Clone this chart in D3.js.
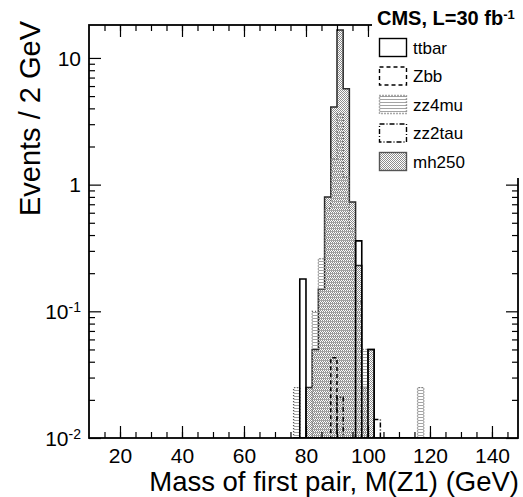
<!DOCTYPE html>
<html>
<head>
<meta charset="utf-8">
<script src="https://cdn.jsdelivr.net/npm/d3@7"></script>
<style>
  body { margin: 0; background: #fff; }
  text { font-family: "Liberation Sans", Arial, sans-serif; }
</style>
</head>
<body>
<div id="chart"></div>
<script>
// bins of 2 GeV, lower edges
var binLow = [76, 78, 80, 82, 84, 86, 88, 90, 92, 94, 96, 98, 100, 102, 104, 106, 108, 110, 112, 114, 116, 118]
var binWidth = 2

// events per bin
var ttbar  = [0, 0.18, 0, 0, 0, 0, 0, 0, 0, 0, 0.36, 0, 0.05, 0, 0, 0, 0, 0, 0, 0, 0, 0]
var zbb    = [0, 0, 0, 0, 0, 0, 0.043, 0, 0, 0, 0, 0, 0, 0, 0, 0, 0, 0, 0, 0, 0, 0]
var zz4mu  = [0.025, 0, 0, 0.10, 0.26, 0.65, 1.6, 3.6, 1.15, 0.45, 0.12, 0.05, 0, 0, 0, 0, 0, 0, 0, 0, 0.025, 0]
var zz2tau = [0, 0, 0, 0, 0, 0, 0, 0.021, 0, 0, 0, 0, 0, 0.014, 0, 0, 0, 0, 0, 0, 0, 0]
var mh250  = [0, 0, 0.025, 0.05, 0.15, 0.80, 4.1, 16.6, 5.7, 0.73, 0.23, 0.025, 0.05, 0, 0, 0, 0, 0, 0, 0, 0, 0]

var xMajor = [20, 40, 60, 80, 100, 120, 140]
var yMajor = [0.01, 0.1, 1, 10]
var legendNames = ["ttbar", "Zbb", "zz4mu", "zz2tau", "mh250"]

var W = 523, H = 497
// frame edges (don't call these top/left: window.top is reserved)
var fL = 89, fR = 518, fT = 25, fB = 438

var svg = d3.select("#chart").append("svg")
  .attr("width", W)
  .attr("height", H)

var defs = svg.append("defs")

// dotted fill (mh250)
var dots = defs.append("pattern")
  .attr("id", "dots")
  .attr("patternUnits", "userSpaceOnUse")
  .attr("width", 2).attr("height", 2)
dots.append("rect").attr("width", 2).attr("height", 2).attr("fill", "#fff")
dots.append("rect").attr("x", 0).attr("y", 0).attr("width", 1).attr("height", 1).attr("fill", "#8e8e8e")
dots.append("rect").attr("x", 1).attr("y", 1).attr("width", 1).attr("height", 1).attr("fill", "#8e8e8e")

// horizontal lines (zz4mu)
var hl = defs.append("pattern")
  .attr("id", "hlines")
  .attr("patternUnits", "userSpaceOnUse")
  .attr("width", 4).attr("height", 3)
hl.append("rect").attr("x", 0).attr("y", 0).attr("width", 4).attr("height", 1).attr("fill", "#a4a4a4")

defs.append("clipPath").attr("id", "frameclip")
  .append("rect")
  .attr("x", fL).attr("y", fT)
  .attr("width", fR - fL).attr("height", fB - fT)

var x = d3.scaleLinear().domain([10, 148.4]).range([fL, fR])
var y = d3.scaleLog().domain([0.01, 18.2]).range([fB, fT])

// ROOT-like step outline, zero bins drop to the frame bottom
function stepPath(vals) {
  var pts = [[x(binLow[0]), fB]]
  vals.forEach(function (v, i) {
    var yy = v > 0 ? y(v) : fB
    pts.push([x(binLow[i]), yy])
    pts.push([x(binLow[i] + binWidth), yy])
  })
  pts.push([x(binLow[binLow.length - 1] + binWidth), fB])
  return d3.line()(pts)
}

var plot = svg.append("g").attr("clip-path", "url(#frameclip)")

var series = [
  { name: "mh250", vals: mh250, fill: "url(#dots)", stroke: "#2a2a2a", dash: null, sw: 1.5 },
  { name: "zz4mu", vals: zz4mu, fill: "url(#hlines)", stroke: "#555", dash: "1,2", sw: 1.3 },
  { name: "ttbar", vals: ttbar, fill: "none", stroke: "#000", dash: null, sw: 1.6 },
  { name: "Zbb", vals: zbb, fill: "none", stroke: "#000", dash: "4,3", sw: 1.5 },
  { name: "zz2tau", vals: zz2tau, fill: "none", stroke: "#000", dash: "5,2,1,2", sw: 1.5 }
]

series.forEach(function (s) {
  plot.append("path")
    .attr("d", stepPath(s.vals))
    .attr("fill", s.fill)
    .attr("stroke", s.stroke)
    .attr("stroke-width", s.sw)
    .attr("stroke-dasharray", s.dash)
})

// axes: ticks on all four sides, pointing inside
var xMinor = d3.range(15, 148, 5)
var yMinor = []
;[0.01, 0.1, 1].forEach(function (d) {
  for (var k = 2; k <= 9; k++) yMinor.push(d * k)
})
yMinor.push(20)
yMinor = yMinor.filter(function (d) { return d < 18.2 })

function ticks(axis, tx, ty) {
  var g = svg.append("g").attr("transform", "translate(" + tx + "," + ty + ")").call(axis)
  return g
}

ticks(d3.axisBottom(x).tickValues(xMinor).tickSize(-6), 0, fB).selectAll("text").remove()
ticks(d3.axisBottom(x).tickValues(xMajor).tickSize(-12).tickPadding(10).tickFormat(d3.format("d")), 0, fB)
  .selectAll("text").style("font-size", "21px").attr("fill", "#000")

ticks(d3.axisTop(x).tickValues(xMinor).tickSize(-6), 0, fT).selectAll("text").remove()
ticks(d3.axisTop(x).tickValues(xMajor).tickSize(-12), 0, fT).selectAll("text").remove()

ticks(d3.axisLeft(y).tickValues(yMinor).tickSize(-6), fL, 0).selectAll("text").remove()
ticks(d3.axisLeft(y).tickValues(yMajor).tickSize(-12), fL, 0).selectAll("text").remove()

ticks(d3.axisRight(y).tickValues(yMinor).tickSize(-6), fR, 0).selectAll("text").remove()
ticks(d3.axisRight(y).tickValues(yMajor).tickSize(-12), fR, 0).selectAll("text").remove()

svg.selectAll(".domain").remove()
svg.selectAll(".tick line").attr("stroke", "#000").attr("stroke-width", 1.2)

svg.append("rect")
  .attr("x", fL).attr("y", fT)
  .attr("width", fR - fL).attr("height", fB - fT)
  .attr("fill", "none").attr("stroke", "#000").attr("stroke-width", 1.8)

// y tick labels with exponents
var ylab = svg.append("g")
yMajor.forEach(function (d) {
  var p = Math.round(Math.log10(d))
  var t = ylab.append("text")
    .attr("x", 81)
    .attr("y", y(d))
    .attr("dy", "0.36em")
    .attr("text-anchor", "end")
    .style("font-size", "21px")
  if (p === 1) t.text("10")
  else if (p === 0) t.text("1")
  else {
    t.append("tspan").text("10")
    t.append("tspan").attr("dy", "-0.5em").style("font-size", "14px").text(p)
  }
})

// axis titles
svg.append("text")
  .attr("x", 519).attr("y", 491)
  .attr("text-anchor", "end")
  .style("font-size", "27.5px")
  .text("Mass of first pair, M(Z1) (GeV)")

svg.append("text")
  .attr("transform", "translate(40,21) rotate(-90)")
  .attr("text-anchor", "end")
  .style("font-size", "29px")
  .text("Events / 2 GeV")

// legend
var leg = svg.append("g")
leg.append("rect")
  .attr("x", 372).attr("y", 0).attr("width", W - 372).attr("height", 178)
  .attr("fill", "#fff")

var title = leg.append("text")
  .attr("x", 377).attr("y", 25)
  .style("font-size", "20px").style("font-weight", "bold")
title.append("tspan").text("CMS, L=30 fb")
title.append("tspan").attr("dy", "-0.5em").style("font-size", "13px").text("-1")

var ly = d3.scalePoint().domain(legendNames).range([47.5, 161.5])
var styleOf = {}
series.forEach(function (s) { styleOf[s.name] = s })

legendNames.forEach(function (n) {
  var s = styleOf[n]
  leg.append("rect")
    .attr("x", 379.5).attr("y", ly(n) - 9)
    .attr("width", 27).attr("height", 18)
    .attr("fill", s.fill === "none" ? "#fff" : s.fill)
    .attr("stroke", n === "mh250" ? "#555" : s.stroke)
    .attr("stroke-width", 1.4)
    .attr("stroke-dasharray", s.dash)
  leg.append("text")
    .attr("x", 413).attr("y", ly(n))
    .attr("dy", "0.36em")
    .style("font-size", "17px")
    .text(n)
})
</script>
</body>
</html>
